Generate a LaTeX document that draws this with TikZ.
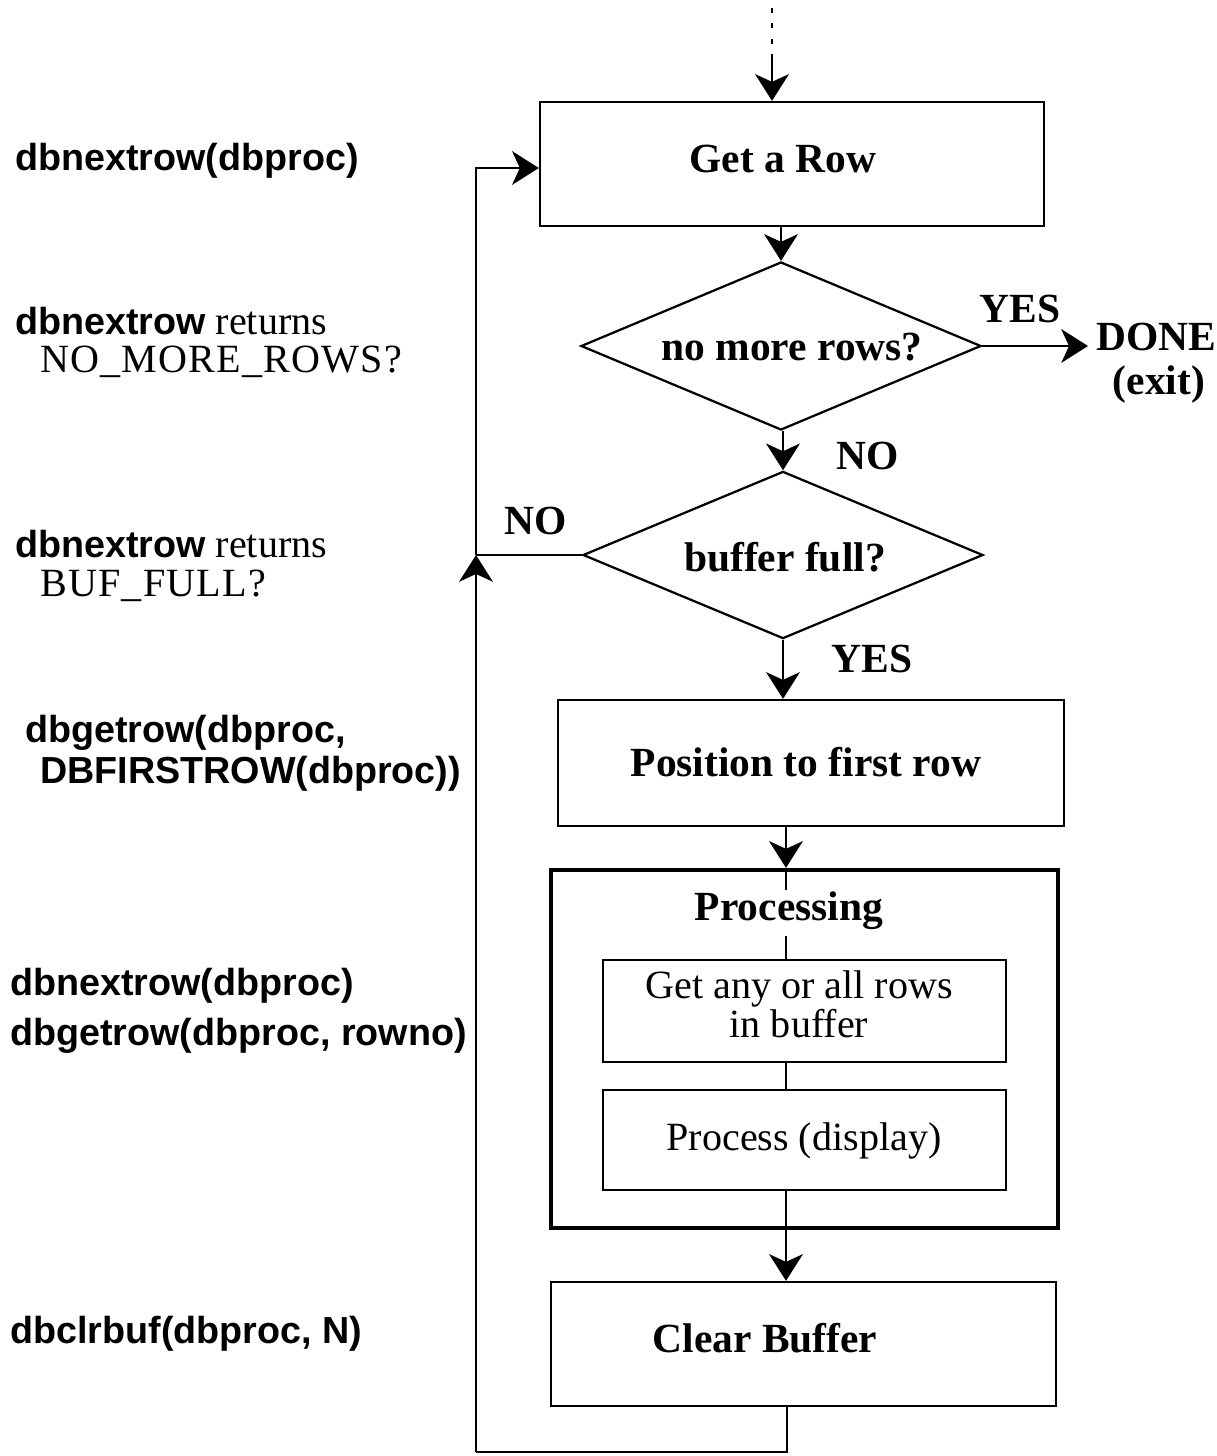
\documentclass[tikz,border=0pt]{standalone}
\usepackage{fontspec}
\setmainfont{Liberation Serif}
\setsansfont{Liberation Sans}
\usetikzlibrary{arrows.meta,shapes.geometric}

\tikzset{
  flow/.style={line width=1.6pt},
  arr/.style={flow, -{Stealth[length=19pt,width=24pt,inset=5.5pt]}},
  box/.style={draw, line width=1.6pt, rectangle, inner sep=0pt},
  heavybox/.style={draw, line width=3pt, rectangle, inner sep=0pt},
  dia/.style={draw, line width=1.6pt, diamond, inner sep=0pt},
  headtxt/.style={font=\fontsize{29.5}{34}\selectfont\bfseries, inner sep=0pt, anchor=base},
  bodytxt/.style={font=\fontsize{28.5}{27.7}\selectfont, inner sep=0pt, align=center},
  apitxt/.style={font=\fontsize{26.8}{32}\selectfont\sffamily\bfseries, inner sep=0pt, anchor=base west},
  notetxt/.style={font=\fontsize{28.5}{32}\selectfont, inner sep=0pt, anchor=base west},
}
\newcommand{\apiname}[1]{{\fontsize{26.8}{32}\selectfont\sffamily\bfseries #1}}
\newcommand{\wideset}[1]{{\addfontfeatures{LetterSpace=3}#1}}

\begin{document}
\begin{tikzpicture}[x=0.025cm, y=-0.025cm]
\useasboundingbox (0,0) rectangle (1217,1456);

% ---- flow boxes ----
\node[box, minimum width=12.6cm, minimum height=3.1cm] (getrow) at (792,164) {};
\node[headtxt] (getrowt) at (783,172) {Get a Row};

\node[dia, minimum width=10cm, minimum height=4.2cm] (d1) at (781,346) {};
\node[headtxt] (d1t) at (792,360) {no more rows?};

\node[dia, minimum width=10cm, minimum height=4.18cm] (d2) at (783,555) {};
\node[headtxt] (d2t) at (785,571) {buffer full?};

\node[box, minimum width=12.65cm, minimum height=3.15cm] (pos) at (811,763) {};
\node[headtxt] (post) at (806,776) {Position to first row};

\node[heavybox, minimum width=12.675cm, minimum height=8.95cm] (outer) at (804.5,1049) {};
\node[headtxt] (outert) at (789,920) {Processing};

\node[box, minimum width=10.075cm, minimum height=2.55cm] (in1) at (804.5,1011) {};
\node[bodytxt] (in1t) at (799,1004) {Get any or all rows\\in buffer};

\node[box, minimum width=10.075cm, minimum height=2.5cm] (in2) at (804.5,1140) {};
\node[bodytxt, anchor=base] (in2t) at (804,1150) {Process (display)};

\node[box, minimum width=12.625cm, minimum height=3.1cm] (clear) at (803.5,1344) {};
\node[headtxt] (cleart) at (765,1352) {Clear Buffer};

% ---- branch labels ----
\node[headtxt] (yes1) at (1020,322) {YES};
\node[headtxt] (done) at (1156,350) {DONE};
\node[headtxt] (exit) at (1159,394) {(exit)};
\node[headtxt] (no1) at (868,469) {NO};
\node[headtxt] (no2) at (536,534) {NO};
\node[headtxt] (yes2) at (872,672) {YES};

% ---- library calls down the left side ----
\node[apitxt] (c1) at (15,170) {dbnextrow(dbproc)};
\node[notetxt] (c2) at (15,334) {\apiname{dbnextrow} returns};
\node[notetxt] (c2b) at (40,372) {\wideset{NO\_MORE\_ROWS?}};
\node[notetxt] (c3) at (15,557) {\apiname{dbnextrow} returns};
\node[notetxt] (c3b) at (40,596) {\wideset{BUF\_FULL?}};
\node[apitxt] (c4) at (25,742) {dbgetrow(dbproc,};
\node[apitxt] (c4b) at (40,783) {DBFIRSTROW(dbproc))};
\node[apitxt] (c5) at (10,995) {dbnextrow(dbproc)};
\node[apitxt] (c5b) at (10,1045) {dbgetrow(dbproc, rowno)};
\node[apitxt] (c6) at (10,1343) {dbclrbuf(dbproc, N)};

% ---- helper points ----
\coordinate (entry) at (772,8);
\coordinate (entrymid) at (772,57);
\coordinate (exitpt) at (1088,346);
\coordinate (sp) at (786,0);
\coordinate (ttop) at (786,890);
\coordinate (tbot) at (786,936);
\coordinate (loopbr) at (787,1452);
\coordinate (loopbl) at (476,1452);
\coordinate (junc) at (476,555);
\coordinate (looptl) at (476,168);

% ---- connectors ----
\draw[flow, dash pattern=on 3.5pt off 7.5pt] (entry) -- (entrymid);
\draw[arr] (entrymid) -- (entrymid |- getrow.north);
\draw[arr] (getrow.south -| d1.north) -- (d1.north);
\draw[arr] (d1.east) -- (exitpt);
\draw[arr] (d2.north |- d1.south) -- (d2.north);
\draw[flow] (d2.west) -- (junc);
\draw[arr] (d2.south) -- (d2.south |- pos.north);
\draw[arr] (pos.south -| sp) -- (outer.north -| sp);
\draw[flow] (outer.north -| sp) -- (ttop);
\draw[flow] (tbot) -- (in1.north -| sp);
\draw[flow] (in1.south -| sp) -- (in2.north -| sp);
\draw[flow] (in2.south -| sp) -- (outer.south -| sp);
\draw[arr] (outer.south -| sp) -- (clear.north -| sp);
\draw[flow] (clear.south -| loopbr) -- (loopbr) -- (loopbl);
\draw[arr] (loopbl) -- (junc);
\draw[arr] (junc) -- (looptl) -- (looptl -| getrow.west);
\end{tikzpicture}
\end{document}
